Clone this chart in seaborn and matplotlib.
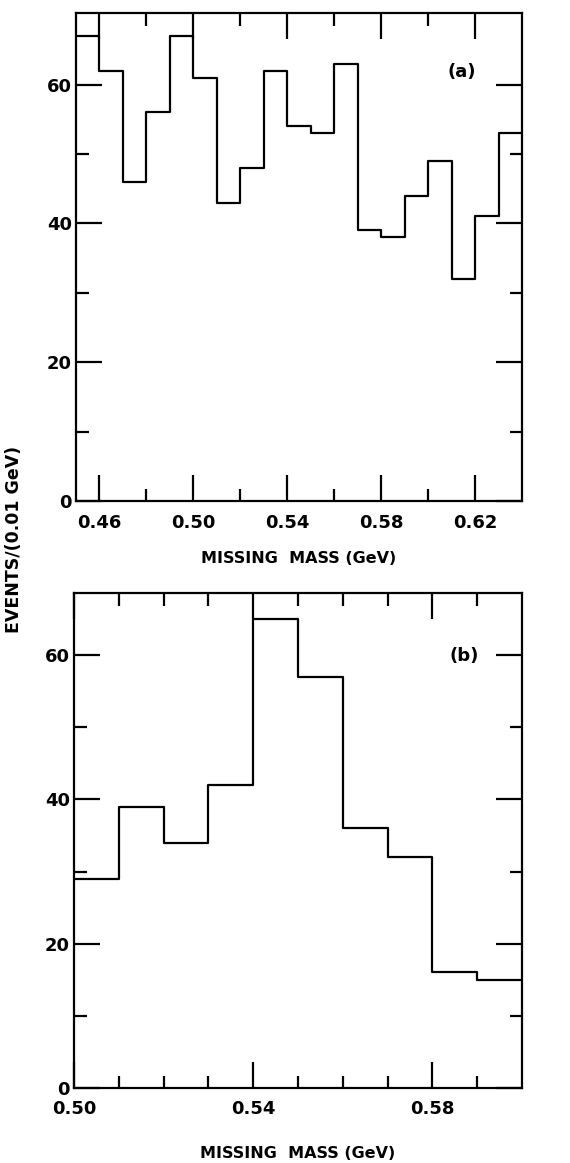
import numpy as np
import pandas as pd
import matplotlib
matplotlib.use("Agg")
import matplotlib.pyplot as plt
import seaborn as sns
from matplotlib.ticker import FixedLocator

# ---- data -----------------------------------------------------------
# panel (a): bin edges (GeV) and counts per 0.01 GeV
a_edges = [0.45, 0.46, 0.47, 0.48, 0.49, 0.50, 0.51, 0.52, 0.53, 0.54,
           0.55, 0.56, 0.57, 0.58, 0.59, 0.60, 0.61, 0.62, 0.63, 0.64]
a_counts = [67, 62, 46, 56, 67, 61, 43, 48, 62, 54,
            53, 63, 39, 38, 44, 49, 32, 41, 53]

# panel (b)
b_edges = [0.50, 0.51, 0.52, 0.53, 0.54, 0.55, 0.56, 0.57, 0.58, 0.59, 0.60]
b_counts = [29, 39, 34, 42, 65, 57, 36, 32, 16, 15]

a_xticks = [0.46, 0.50, 0.54, 0.58, 0.62]
a_xticklabels = ["0.46", "0.50", "0.54", "0.58", "0.62"]
a_xminor = [0.48, 0.52, 0.56, 0.60]
b_xticks = [0.50, 0.54, 0.58]
b_xticklabels = ["0.50", "0.54", "0.58"]
b_xminor = [0.51, 0.52, 0.53, 0.55, 0.56, 0.57, 0.59]
yticks = [0, 20, 40, 60]
yticklabels = ["0", "20", "40", "60"]
yminor = [10, 30, 50]

xlabel = "MISSING  MASS (GeV)"
ylabel = "EVENTS/(0.01 GeV)"

# ---- figure ---------------------------------------------------------
sns.set_theme(style="white")
plt.rcParams['font.family'] = ['DejaVu Sans']

fig = plt.figure(figsize=(5.70, 11.63), dpi=100)
ax_a = fig.add_axes([0.1333, 0.5692, 0.9158 - 0.1333, 0.9888 - 0.5692])
ax_b = fig.add_axes([0.1298, 0.0647, 0.9158 - 0.1298, 0.4904 - 0.0647])


def draw(ax, edges, counts, xticks, xticklabels, xminor, ylim_top, tag, tag_xy, xlabelpad):
    e = np.asarray(edges, dtype=float)
    centers = (e[:-1] + e[1:]) / 2
    df = pd.DataFrame({"mass": centers, "n": np.asarray(counts, dtype=float)})
    sns.histplot(data=df, x="mass", weights="n", bins=list(edges), element="step",
                 fill=False, color="black", linewidth=1.6, ax=ax)
    ax.set_xlim(edges[0], edges[-1])
    ax.set_ylim(0, ylim_top)
    ax.xaxis.set_major_locator(FixedLocator(xticks))
    ax.set_xticklabels(xticklabels, fontweight="bold")
    ax.xaxis.set_minor_locator(FixedLocator(xminor))
    ax.yaxis.set_major_locator(FixedLocator(yticks))
    ax.set_yticklabels(yticklabels, fontweight="bold")
    ax.yaxis.set_minor_locator(FixedLocator(yminor))
    ax.tick_params(which="both", direction="in", top=True, right=True,
                   bottom=True, left=True, color="black", width=1.6,
                   labelsize=13, labelcolor="black")
    ax.tick_params(which="major", length=19)
    ax.tick_params(which="minor", length=9)
    ax.tick_params(axis="x", which="major", pad=9)
    ax.tick_params(axis="y", which="major", pad=3)
    for s in ax.spines.values():
        s.set_visible(True)
        s.set_color("black")
        s.set_linewidth(1.6)
    ax.set_xlabel(xlabel, fontsize=11.5, fontweight="bold", labelpad=xlabelpad,
                  color="black")
    ax.set_ylabel("")
    ax.grid(False)
    ax.text(tag_xy[0], tag_xy[1], tag, transform=ax.transAxes, fontsize=13,
            fontweight="bold", ha="center", va="center", color="black")


draw(ax_a, a_edges, a_counts, a_xticks, a_xticklabels, a_xminor, 70.3, "(a)",
     (0.865, 0.88), 14)
draw(ax_b, b_edges, b_counts, b_xticks, b_xticklabels, b_xminor, 68.7, "(b)",
     (0.87, 0.873), 20)

fig.text(0.024, 0.536, ylabel, rotation=90, ha="center", va="center",
         fontsize=12.5, fontweight="bold", color="black")

fig.savefig("out.png", dpi=100, facecolor="white")
